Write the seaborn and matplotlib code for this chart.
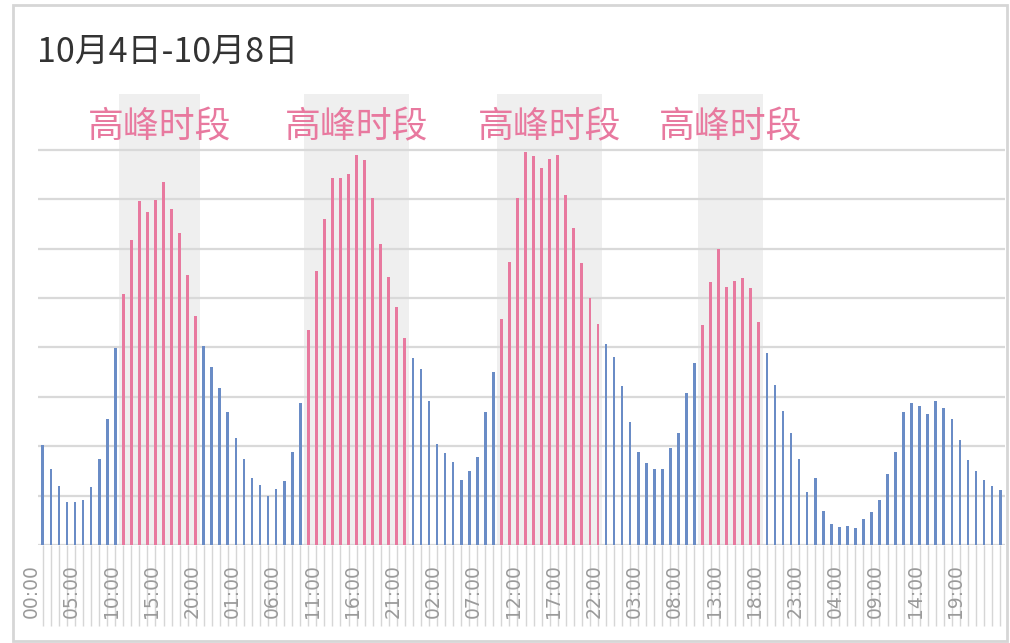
import numpy as np
import pandas as pd
import matplotlib.pyplot as plt
import matplotlib.transforms as mtransforms
from matplotlib.patches import Rectangle
import seaborn as sns

# hourly values, 10/4 00:00 .. 10/8 23:00 (grid units x100)
values = [202, 153, 119, 88, 88, 91, 117, 175, 256, 398,
          508, 617, 696, 675, 698, 735, 680, 632, 547, 464,
          403, 360, 317, 270, 216, 175, 135, 121, 99, 113,
          130, 189, 288, 435, 555, 659, 742, 742, 751, 789,
          779, 703, 609, 543, 482, 420, 378, 356, 291, 204,
          186, 169, 132, 150, 178, 269, 351, 457, 573, 703,
          796, 787, 764, 781, 789, 709, 642, 571, 501, 447,
          407, 381, 322, 248, 189, 167, 153, 153, 196, 226,
          307, 368, 445, 532, 599, 523, 534, 541, 520, 451,
          389, 324, 271, 226, 175, 108, 135, 69, 42, 37,
          39, 34, 52, 66, 92, 144, 189, 269, 287, 282,
          265, 292, 277, 256, 213, 173, 150, 132, 119, 111]
# peak windows as (first hour index, last hour index)
peak_ranges = [(10, 19), (33, 45), (57, 69), (82, 89)]
peak_label = "高峰时段"
title = "10月4日-10月8日"

hours = [f"{i % 24:02d}:00" for i in range(len(values))]
is_peak = ["高峰" if any(a <= i <= b for a, b in peak_ranges) else "平时" for i in range(len(values))]
df = pd.DataFrame({"idx": range(len(values)), "value": values, "peak": is_peak})

sns.set_style("white")
plt.rcParams['font.family'] = ['Noto Sans CJK SC', 'DejaVu Sans']

pink = "#e8799f"
blue = "#6a8cc6"

fig = plt.figure(figsize=(10.10, 6.43), dpi=100)
ax = fig.add_axes([38 / 1010, 98 / 643, 967 / 1010, 451 / 643])

# grey bands behind the peaks
for a, b in peak_ranges:
    ax.axvspan(a - 0.5, b + 0.5, color="#efefef", zorder=0, lw=0)
    ax.text((a + b) / 2, 846, peak_label, ha="center", va="center",
            fontsize=25.8, color=pink)

sns.barplot(data=df, x="idx", y="value", hue="peak", dodge=False, width=0.34,
            palette={"高峰": pink, "平时": blue}, saturation=1, linewidth=0,
            legend=False, ax=ax, zorder=3)

ax.set_xlim(-0.6, len(values) - 0.4)
ax.set_ylim(0, 913)
ax.set_yticks(range(0, 801, 100))
ax.set_yticklabels([])
ax.yaxis.grid(True, color="#d9d9d9", lw=1.6, zorder=1)
ax.tick_params(axis="y", length=0)
ax.set_xlabel("")
ax.set_ylabel("")

ax.set_xticks(range(len(values)))
ax.set_xticklabels([h if i % 5 == 0 else "" for i, h in enumerate(hours)],
                   rotation=90, fontsize=13.5, color="#9a9a9a", family="DejaVu Sans")
ax.tick_params(axis="x", bottom=True, length=58, width=1, color="#d6d6d6", pad=-44)
offset = mtransforms.ScaledTranslation(-0.12, 0, fig.dpi_scale_trans)
for lab in ax.get_xticklabels():
    lab.set_transform(lab.get_transform() + offset)

for s in ax.spines.values():
    s.set_visible(False)

fig.text(37 / 1010, 1 - 52 / 643, title, ha="left", va="center", fontsize=24.5, color="#333333")

# light frame around the card
fig.patches.append(Rectangle((13 / 1010, 2 / 643), 994 / 1010, 636 / 643,
                             transform=fig.transFigure, fill=False,
                             edgecolor="#d6d6d6", lw=2))

fig.savefig("out.png", dpi=100)
